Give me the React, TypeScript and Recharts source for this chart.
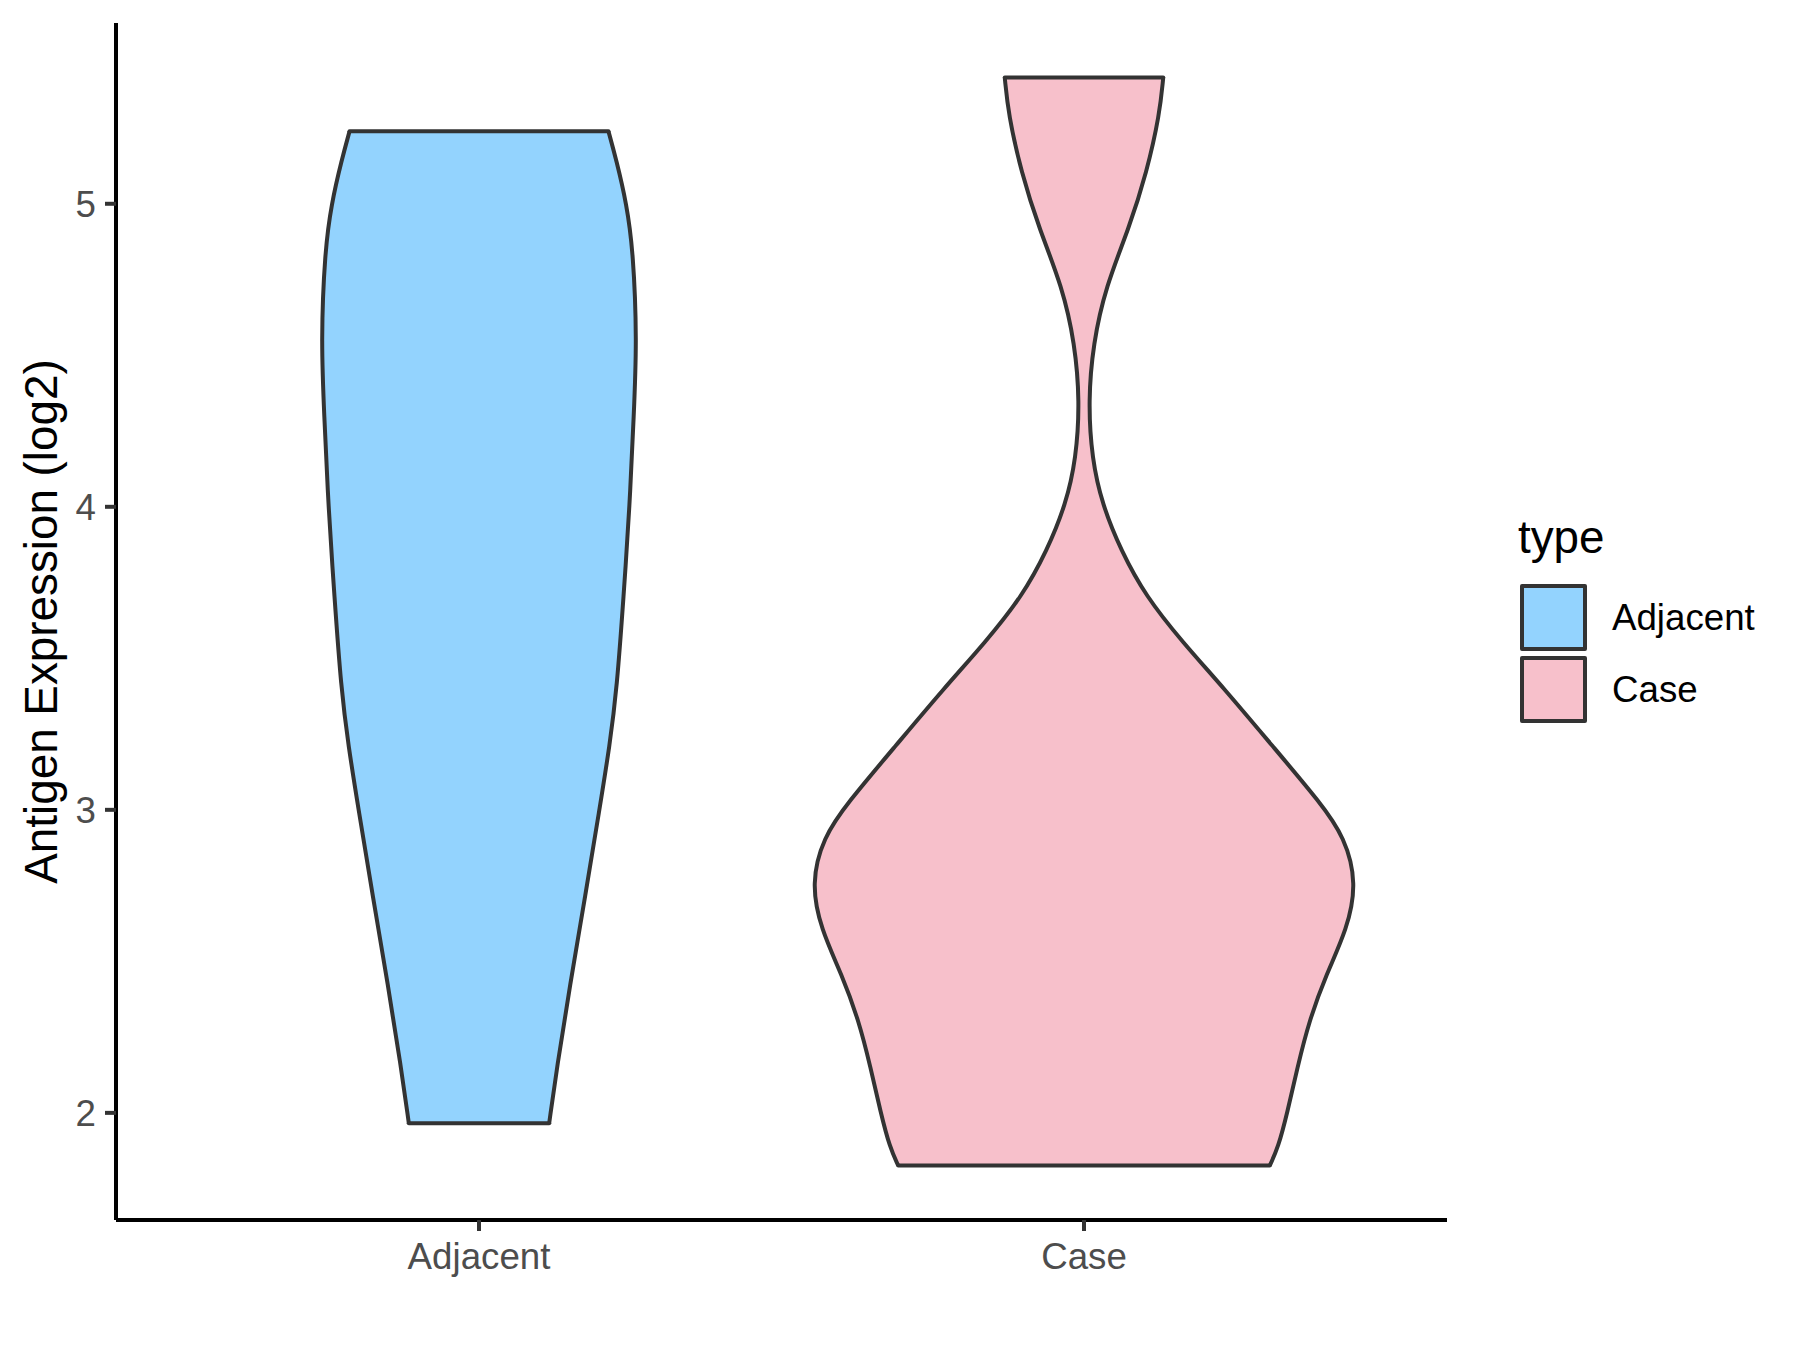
import React from 'react';
import { ComposedChart, Area, XAxis, YAxis, ReferenceLine, Legend } from 'recharts';

const categories = ['Adjacent', 'Case'];
const fillColors = ['#93D3FE', '#F7C0CB'];
const yTicks = [2, 3, 4, 5];
const yAxisTitle = 'Antigen Expression (log2)';
const legendTitle = 'type';

// Adjacent violin: expression values and half-widths (in category units)
const adjValues = [1.966, 2.152, 2.417, 2.72, 3.0, 3.212, 3.402, 3.705, 4.0, 4.311, 4.545, 4.841, 5.0, 5.144, 5.239];
const adjHalfWidth = [0.116, 0.129, 0.15, 0.176, 0.199, 0.216, 0.228, 0.239, 0.249, 0.256, 0.261, 0.255, 0.244, 0.227, 0.214];

// Case violin
const caseValues = [1.826, 1.886, 2.0, 2.152, 2.303, 2.455, 2.606, 2.758, 2.909, 3.023, 3.212, 3.402, 3.553, 3.705, 3.856, 4.008, 4.159, 4.348, 4.538, 4.727, 4.917, 5.106, 5.295, 5.417];
const caseHalfWidth = [0.307, 0.321, 0.336, 0.353, 0.372, 0.4, 0.435, 0.451, 0.431, 0.391, 0.311, 0.231, 0.163, 0.102, 0.061, 0.03, 0.013, 0.007, 0.015, 0.036, 0.074, 0.104, 0.125, 0.131];

const FONT = '"Liberation Sans", Arial, Helvetica, sans-serif';

const buildViolin = (values: number[], hw: number[], center: number) =>
  values.map((v, i) => ({ v, range: [center - hw[i], center + hw[i]] }));

const violins = [
  { name: categories[0], data: buildViolin(adjValues, adjHalfWidth, 1), values: adjValues, hw: adjHalfWidth, center: 1 },
  { name: categories[1], data: buildViolin(caseValues, caseHalfWidth, 2), values: caseValues, hw: caseHalfWidth, center: 2 },
];

const allVals = [...adjValues, ...caseValues];
const vMin = Math.min(...allVals);
const vMax = Math.max(...allVals);
const pad = (vMax - vMin) * 0.05;
const yDomain = [vMin - pad, vMax + pad];

const YTitle = (props: any) => {
  const vb = props.viewBox || {};
  const cx = 41;
  const cy = vb.y + vb.height / 2;
  return (
    <text
      x={cx}
      y={cy}
      transform={`rotate(-90 ${cx} ${cy})`}
      textAnchor="middle"
      dominantBaseline="central"
      fontSize={45.8}
      fill="#000000"
      fontFamily={FONT}
    >
      {yAxisTitle}
    </text>
  );
};

const LegendContent = () => (
  <div style={{ position: 'relative', width: 280, height: 240, fontFamily: FONT }}>
    <div style={{ position: 'absolute', left: 0, top: 0, fontSize: 45.8, lineHeight: '52px', color: '#000' }}>{legendTitle}</div>
    {categories.map((c, i) => (
      <React.Fragment key={c}>
        <div
          style={{
            position: 'absolute',
            left: 2,
            top: 72 + i * 72,
            width: 67,
            height: 67,
            boxSizing: 'border-box',
            background: fillColors[i],
            border: '4px solid #333333',
            borderRadius: 2,
          }}
        />
        <div style={{ position: 'absolute', left: 94, top: 72 + i * 72, height: 67, lineHeight: '67px', fontSize: 36.7, color: '#000' }}>{c}</div>
      </React.Fragment>
    ))}
  </div>
);

export default function App() {
  return (
    <div style={{ position: 'absolute', left: 0, top: 0, width: 1800, height: 1350, background: '#fff' }}>
      <ComposedChart
        width={1800}
        height={1350}
        layout="vertical"
        margin={{ top: 23, right: 353, bottom: 70, left: 0 }}
      >
        <XAxis
          type="number"
          domain={[0.4, 2.6]}
          ticks={[1, 2]}
          tickFormatter={(t: number) => categories[t - 1]}
          allowDataOverflow
          height={60}
          axisLine={{ stroke: '#000000', strokeWidth: 4 }}
          tickLine={{ stroke: '#333333', strokeWidth: 4 }}
          tickSize={11}
          tickMargin={12}
          tick={{ fill: '#4D4D4D', fontSize: 36.7, fontFamily: FONT }}
        />
        <YAxis
          type="number"
          dataKey="v"
          domain={yDomain}
          ticks={yTicks}
          allowDataOverflow
          reversed
          width={116}
          axisLine={{ stroke: '#000000', strokeWidth: 4 }}
          tickLine={{ stroke: '#333333', strokeWidth: 4 }}
          tickSize={11}
          tickMargin={9}
          tick={{ fill: '#4D4D4D', fontSize: 36.7, fontFamily: FONT }}
          label={<YTitle />}
        />
        {violins.map((vl, i) => (
          <Area
            key={vl.name}
            name={vl.name}
            data={vl.data}
            dataKey="range"
            type="basis"
            fill={fillColors[i]}
            fillOpacity={1}
            stroke="#333333"
            strokeWidth={4}
            strokeLinejoin="round"
            isAnimationActive={false}
            dot={false}
            activeDot={false}
          />
        ))}
        {violins.map((vl) => {
          const n = vl.values.length - 1;
          return (
            <React.Fragment key={vl.name + '-caps'}>
              <ReferenceLine
                segment={[
                  { x: vl.center - vl.hw[0], y: vl.values[0] },
                  { x: vl.center + vl.hw[0], y: vl.values[0] },
                ]}
                stroke="#333333"
                strokeWidth={4}
                strokeLinecap="round"
                ifOverflow="visible"
              />
              <ReferenceLine
                segment={[
                  { x: vl.center - vl.hw[n], y: vl.values[n] },
                  { x: vl.center + vl.hw[n], y: vl.values[n] },
                ]}
                stroke="#333333"
                strokeWidth={4}
                strokeLinecap="round"
                ifOverflow="visible"
              />
            </React.Fragment>
          );
        })}
        <Legend
          layout="vertical"
          align="center"
          verticalAlign="middle"
          content={<LegendContent />}
          wrapperStyle={{ left: 1518, top: 512, width: 280 }}
        />
      </ComposedChart>
    </div>
  );
}
